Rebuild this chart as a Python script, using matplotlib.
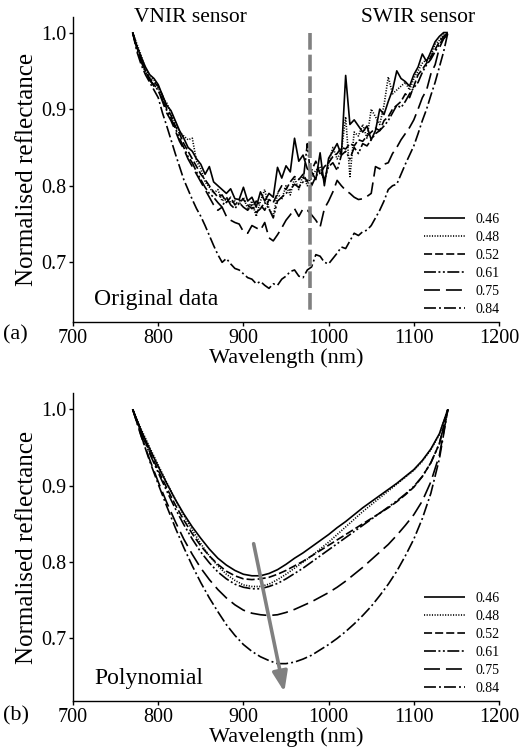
import numpy as np
import matplotlib
matplotlib.use("Agg")
import matplotlib.pyplot as plt

plt.rcParams['font.family'] = ['Liberation Serif', 'DejaVu Serif']
plt.rcParams['lines.scale_dashes'] = False

# ---- data -----------------------------------------------------------------
labels = ['0.46', '0.48', '0.52', '0.61', '0.75', '0.84']

# original spectra, 770-1140 nm every 5 nm
wl_raw = np.arange(770, 1141, 5)

raw_046 = [1.000, 0.982, 0.968, 0.955, 0.945, 0.940, 0.932, 0.918, 0.905, 0.898,
           0.885, 0.872, 0.862, 0.850, 0.845, 0.835, 0.828, 0.815, 0.825, 0.805,
           0.800, 0.795, 0.790, 0.796, 0.783, 0.782, 0.798, 0.780, 0.785, 0.772,
           0.792, 0.780, 0.790, 0.785, 0.824, 0.810, 0.826, 0.818, 0.862, 0.832,
           0.840, 0.822, 0.818, 0.808, 0.843, 0.800, 0.836, 0.845, 0.855, 0.840,
           0.944, 0.880, 0.886, 0.878, 0.870, 0.878, 0.860, 0.872, 0.900, 0.893,
           0.910, 0.925, 0.950, 0.940, 0.936, 0.930, 0.945, 0.955, 0.972, 0.962,
           0.975, 0.988, 0.995, 1.000, 1.000]
raw_048 = [1.000, 0.985, 0.970, 0.952, 0.942, 0.938, 0.928, 0.915, 0.908, 0.895,
           0.882, 0.870, 0.865, 0.860, 0.862, 0.832, 0.822, 0.805, 0.798, 0.790,
           0.795, 0.780, 0.785, 0.778, 0.780, 0.775, 0.785, 0.770, 0.780, 0.760,
           0.780, 0.795, 0.770, 0.760, 0.790, 0.782, 0.800, 0.788, 0.810, 0.795,
           0.815, 0.800, 0.812, 0.820, 0.825, 0.805, 0.830, 0.850, 0.835, 0.845,
           0.890, 0.812, 0.870, 0.865, 0.880, 0.862, 0.900, 0.890, 0.880, 0.905,
           0.942, 0.920, 0.925, 0.930, 0.935, 0.925, 0.940, 0.950, 0.960, 0.965,
           0.970, 0.985, 0.990, 0.998, 1.000]
raw_052 = [1.000, 0.980, 0.965, 0.950, 0.940, 0.935, 0.930, 0.918, 0.900, 0.892,
           0.878, 0.868, 0.855, 0.845, 0.835, 0.825, 0.815, 0.808, 0.800, 0.792,
           0.785, 0.788, 0.778, 0.785, 0.775, 0.780, 0.782, 0.775, 0.770, 0.780,
           0.775, 0.768, 0.782, 0.778, 0.790, 0.800, 0.795, 0.805, 0.812, 0.808,
           0.815, 0.805, 0.820, 0.832, 0.815, 0.825, 0.830, 0.838, 0.842, 0.850,
           0.848, 0.855, 0.852, 0.860, 0.858, 0.865, 0.870, 0.875, 0.872, 0.885,
           0.890, 0.900, 0.905, 0.910, 0.920, 0.915, 0.930, 0.945, 0.952, 0.960,
           0.968, 0.978, 0.988, 0.995, 1.000]
raw_061 = [1.000, 0.978, 0.962, 0.948, 0.938, 0.930, 0.925, 0.912, 0.898, 0.888,
           0.875, 0.862, 0.850, 0.838, 0.830, 0.818, 0.808, 0.798, 0.790, 0.785,
           0.778, 0.772, 0.785, 0.775, 0.770, 0.778, 0.772, 0.768, 0.775, 0.765,
           0.770, 0.778, 0.770, 0.758, 0.780, 0.785, 0.790, 0.795, 0.802, 0.798,
           0.805, 0.855, 0.800, 0.812, 0.820, 0.808, 0.825, 0.830, 0.820, 0.840,
           0.845, 0.835, 0.850, 0.842, 0.855, 0.852, 0.860, 0.868, 0.872, 0.878,
           0.885, 0.895, 0.905, 0.902, 0.910, 0.920, 0.928, 0.935, 0.948, 0.958,
           0.965, 0.975, 0.985, 0.992, 0.998]
raw_075 = [1.000, 0.980, 0.965, 0.950, 0.938, 0.932, 0.925, 0.910, 0.895, 0.885,
           0.872, 0.858, 0.848, 0.835, 0.825, 0.815, 0.805, 0.795, 0.785, 0.775,
           0.768, 0.772, 0.760, 0.755, 0.752, 0.750, 0.740, 0.738, 0.748, 0.745,
           0.742, 0.752, 0.732, 0.728, 0.736, 0.745, 0.755, 0.762, 0.770, 0.760,
           0.770, 0.768, 0.762, 0.755, 0.746, 0.770, 0.780, 0.792, 0.807, 0.800,
           0.794, 0.790, 0.785, 0.782, 0.783, 0.786, 0.790, 0.825, 0.822, 0.828,
           0.830, 0.842, 0.850, 0.860, 0.868, 0.876, 0.886, 0.900, 0.915, 0.925,
           0.946, 0.958, 0.980, 0.992, 1.000]
raw_084 = [1.000, 0.975, 0.958, 0.945, 0.935, 0.925, 0.915, 0.895, 0.878, 0.860,
           0.842, 0.825, 0.808, 0.795, 0.782, 0.770, 0.760, 0.748, 0.735, 0.722,
           0.710, 0.700, 0.705, 0.698, 0.692, 0.690, 0.685, 0.680, 0.678, 0.672,
           0.675, 0.670, 0.666, 0.672, 0.670, 0.678, 0.682, 0.688, 0.690, 0.682,
           0.680, 0.690, 0.694, 0.710, 0.708, 0.700, 0.698, 0.705, 0.712, 0.720,
           0.718, 0.728, 0.738, 0.735, 0.740, 0.742, 0.748, 0.758, 0.768, 0.780,
           0.795, 0.800, 0.802, 0.815, 0.828, 0.840, 0.852, 0.868, 0.885, 0.900,
           0.918, 0.935, 0.955, 0.975, 1.000]

# polynomial fits, 770-1140 nm every 10 nm
wl_fit = np.arange(770, 1141, 10)

fit_046 = [1.000, 0.972, 0.948, 0.925, 0.903, 0.882, 0.863, 0.846, 0.831, 0.817,
           0.805, 0.796, 0.789, 0.784, 0.782, 0.782, 0.785, 0.790, 0.797, 0.805,
           0.812, 0.820, 0.828, 0.836, 0.845, 0.853, 0.862, 0.871, 0.879, 0.887,
           0.895, 0.903, 0.912, 0.921, 0.933, 0.948, 0.968, 1.000]
fit_048 = [1.000, 0.974, 0.950, 0.927, 0.904, 0.882, 0.861, 0.842, 0.824, 0.808,
           0.795, 0.784, 0.776, 0.770, 0.768, 0.768, 0.771, 0.777, 0.784, 0.792,
           0.800, 0.808, 0.817, 0.826, 0.836, 0.846, 0.856, 0.866, 0.875, 0.884,
           0.893, 0.902, 0.911, 0.920, 0.932, 0.947, 0.967, 1.000]
fit_052 = [1.000, 0.970, 0.944, 0.920, 0.897, 0.875, 0.855, 0.837, 0.821, 0.808,
           0.797, 0.788, 0.782, 0.778, 0.777, 0.778, 0.780, 0.784, 0.789, 0.795,
           0.801, 0.808, 0.815, 0.822, 0.829, 0.836, 0.843, 0.850, 0.857, 0.864,
           0.871, 0.879, 0.888, 0.898, 0.912, 0.930, 0.955, 1.000]
fit_061 = [1.000, 0.969, 0.942, 0.917, 0.893, 0.870, 0.849, 0.830, 0.813, 0.799,
           0.787, 0.778, 0.771, 0.767, 0.765, 0.765, 0.768, 0.772, 0.778, 0.785,
           0.792, 0.800, 0.808, 0.816, 0.824, 0.832, 0.840, 0.848, 0.856, 0.864,
           0.872, 0.880, 0.889, 0.899, 0.912, 0.930, 0.955, 1.000]
fit_075 = [1.000, 0.965, 0.934, 0.905, 0.878, 0.853, 0.830, 0.810, 0.792, 0.777,
           0.764, 0.753, 0.744, 0.737, 0.733, 0.731, 0.730, 0.731, 0.734, 0.738,
           0.743, 0.748, 0.754, 0.760, 0.767, 0.775, 0.784, 0.793, 0.803, 0.813,
           0.823, 0.835, 0.848, 0.862, 0.880, 0.905, 0.940, 1.000]
fit_084 = [1.000, 0.965, 0.932, 0.902, 0.873, 0.845, 0.819, 0.795, 0.773, 0.753,
           0.735, 0.718, 0.704, 0.692, 0.683, 0.676, 0.671, 0.667, 0.667, 0.669,
           0.673, 0.678, 0.685, 0.692, 0.700, 0.709, 0.719, 0.730, 0.742, 0.756,
           0.771, 0.788, 0.808, 0.830, 0.857, 0.890, 0.935, 1.000]

raw_series = [raw_046, raw_048, raw_052, raw_061, raw_075, raw_084]
fit_series = [fit_046, fit_048, fit_052, fit_061, fit_075, fit_084]

sensor_split = 978  # nm, VNIR / SWIR boundary
arrow_start = (912, 0.824)
arrow_end = (948, 0.630)

# ---- styles ---------------------------------------------------------------
styles = [
    (0, ()),
    (0, (0.8, 1.1)),
    (0, (5.8, 2.2)),
    (0, (8.6, 1.8, 1.4, 1.8, 1.4, 1.8)),
    (0, (11.5, 4.3)),
    (0, (8.6, 2.2, 1.4, 2.2)),
]

fig = plt.figure(figsize=(5.19, 7.49), dpi=100)
ax1 = fig.add_axes([0.1407, 0.570, 0.8208, 0.407])
ax2 = fig.add_axes([0.1407, 0.064, 0.8208, 0.411])


def style_axis(ax):
    ax.set_xlim(700, 1200)
    ax.set_xticks([700, 800, 900, 1000, 1100, 1200])
    ax.set_yticks([0.7, 0.8, 0.9, 1.0])
    ax.yaxis.set_major_formatter(matplotlib.ticker.FormatStrFormatter('%.1f'))
    for s in ['top', 'right']:
        ax.spines[s].set_visible(False)
    for s in ['left', 'bottom']:
        ax.spines[s].set_linewidth(1.0)
    ax.tick_params(direction='out', length=3, width=1.0, labelsize=14.5, pad=2)
    ax.set_xlabel('Wavelength (nm)', fontsize=16, labelpad=0.5)
    ax.set_ylabel('Normalised reflectance', fontsize=18, labelpad=2)
    ax.legend(loc='lower right', bbox_to_anchor=(1.03, -0.02), frameon=False,
              fontsize=10, handlelength=3.0, labelspacing=0.36,
              handletextpad=0.7)


for vals, lab, ls in zip(raw_series, labels, styles):
    ax1.plot(wl_raw, vals, color='black', lw=1.2, linestyle=ls, label=lab)
ax1.set_ylim(0.622, 1.02)
ax1.plot([sensor_split, sensor_split], [1.0, 0.632], color='#808080', lw=2.6,
         linestyle=(0, (12, 3.6)), solid_capstyle='butt')
style_axis(ax1)
ax1.text(0.05, 0.04, 'Original data', transform=ax1.transAxes, fontsize=17,
         ha='left', va='bottom')

for vals, lab, ls in zip(fit_series, labels, styles):
    ax2.plot(wl_fit, vals, color='black', lw=1.2, linestyle=ls, label=lab)
ax2.set_ylim(0.618, 1.021)
style_axis(ax2)
ax2.text(0.05, 0.04, 'Polynomial', transform=ax2.transAxes, fontsize=17,
         ha='left', va='bottom')
ax2.annotate('', xy=arrow_end, xytext=arrow_start,
             arrowprops=dict(arrowstyle='-|>,head_length=1.2,head_width=0.45',
                             color='#808080', lw=2.6, shrinkA=0, shrinkB=0))

fig.text(0.366, 0.977, 'VNIR sensor', fontsize=15.5, ha='center', va='center')
fig.text(0.806, 0.977, 'SWIR sensor', fontsize=15.5, ha='center', va='center')
fig.text(0.006, 0.553, '(a)', fontsize=16, ha='left', va='center')
fig.text(0.006, 0.044, '(b)', fontsize=16, ha='left', va='center')

fig.savefig('out.png', dpi=100)
